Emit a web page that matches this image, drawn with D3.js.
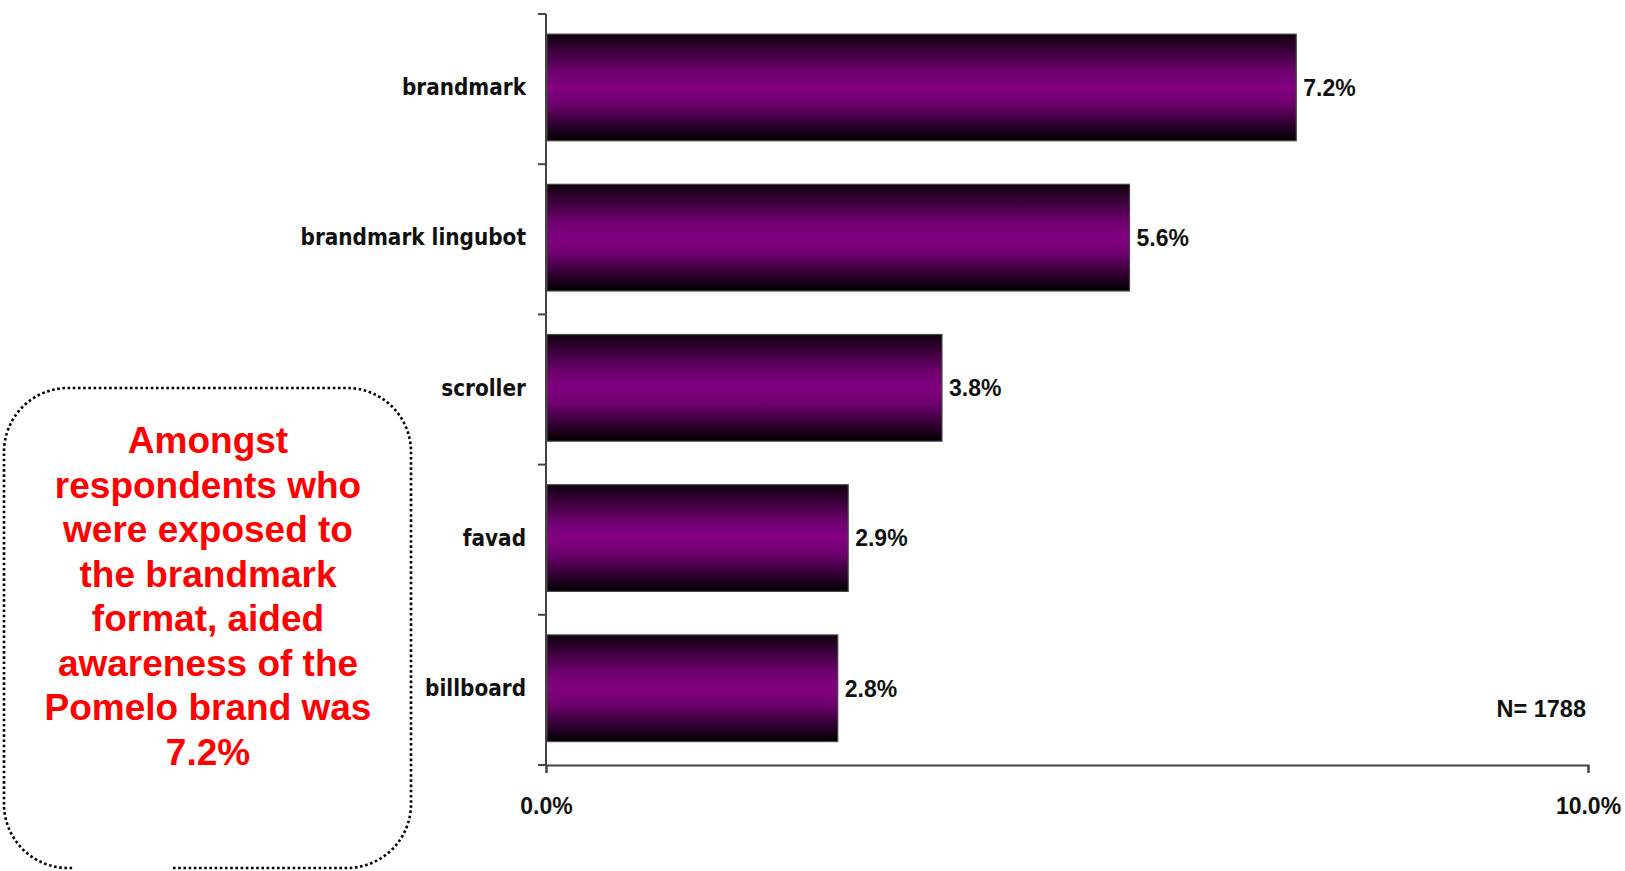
<!DOCTYPE html>
<html>
<head>
<meta charset="utf-8">
<script src="https://cdn.jsdelivr.net/npm/d3@7"></script>
<style>
  html, body { margin: 0; padding: 0; background: #ffffff; }
  svg { display: block; }
</style>
</head>
<body>
<svg id="chart" width="1625" height="871"></svg>
<script>
// ---- data ----
const categories = ["brandmark", "brandmark lingubot", "scroller", "favad", "billboard"];
const values = [0.072, 0.056, 0.038, 0.029, 0.028];
const xTicks = [0, 0.10];
const sampleNote = "N= 1788";
const calloutLines = [
  "Amongst",
  "respondents who",
  "were exposed to",
  "the brandmark",
  "format, aided",
  "awareness of the",
  "Pomelo brand was",
  "7.2%"
];

// ---- layout ----
const svg = d3.select("#chart");
const x0 = 546, x1 = 1588, yTop = 14, yBot = 765;
const x = d3.scaleLinear().domain([0, 0.10]).range([x0, x1]);
const y = d3.scaleBand().domain(categories).range([yTop, yBot]).padding(0);
const step = y.step();
const barOff = step * 0.134, barH = step * 0.71;

// gradient
const defs = svg.append("defs");
const grad = defs.append("linearGradient").attr("id", "barGrad")
  .attr("x1", 0).attr("y1", 0).attr("x2", 0).attr("y2", 1);
grad.append("stop").attr("offset", "0%").attr("stop-color", "#100010");
grad.append("stop").attr("offset", "35%").attr("stop-color", "#6e006e");
grad.append("stop").attr("offset", "50%").attr("stop-color", "#820082");
grad.append("stop").attr("offset", "65%").attr("stop-color", "#6e006e");
grad.append("stop").attr("offset", "100%").attr("stop-color", "#000000");

const data = categories.map((c, i) => ({ c, v: values[i] }));

// bars
svg.append("g").selectAll("rect").data(data).join("rect")
  .attr("x", x(0) + 1)
  .attr("y", d => y(d.c) + barOff)
  .attr("width", d => x(d.v) - x(0) - 1)
  .attr("height", barH)
  .attr("fill", "url(#barGrad)")
  .attr("stroke", "#444")
  .attr("stroke-width", 1.2);

// value labels
svg.append("g").selectAll("text").data(data).join("text")
  .attr("x", d => x(d.v) + 7)
  .attr("y", d => y(d.c) + barOff + barH / 2)
  .attr("dy", "0.36em")
  .attr("font-family", "Liberation Sans, Arial, sans-serif")
  .attr("font-weight", "bold")
  .attr("font-size", 23)
  .attr("fill", "#111")
  .text(d => d3.format(".1%")(d.v));

// x axis
const xAxis = d3.axisBottom(x).tickValues(xTicks).tickFormat(d3.format(".1%"))
  .tickSize(8).tickPadding(25);
const gx = svg.append("g").attr("transform", `translate(0,${yBot})`).call(xAxis);
gx.select(".domain").attr("stroke", "#444").attr("stroke-width", 2);
gx.selectAll(".tick line").attr("stroke", "#444").attr("stroke-width", 2);
gx.selectAll(".tick text")
  .attr("font-family", "Liberation Sans, Arial, sans-serif")
  .attr("font-weight", "bold")
  .attr("font-size", 23)
  .attr("fill", "#111");

// y axis (category axis with ticks at band boundaries)
const gy = svg.append("g");
gy.append("line").attr("x1", x0).attr("x2", x0).attr("y1", yTop).attr("y2", yBot)
  .attr("stroke", "#444").attr("stroke-width", 2);
const bounds = categories.map(c => y(c)).concat([yBot]);
gy.selectAll("line.tk").data(bounds).join("line").attr("class", "tk")
  .attr("x1", x0 - 8).attr("x2", x0).attr("y1", d => d).attr("y2", d => d)
  .attr("stroke", "#444").attr("stroke-width", 2);
gy.selectAll("text").data(data).join("text")
  .attr("x", x0 - 20)
  .attr("y", d => y(d.c) + barOff + barH / 2)
  .attr("dy", "0.35em")
  .attr("text-anchor", "end")
  .attr("font-family", "DejaVu Sans Condensed, DejaVu Sans, sans-serif")
  .attr("font-stretch", "condensed")
  .attr("font-weight", "bold")
  .attr("font-size", 22.3)
  .attr("fill", "#111")
  .text(d => d.c);

// N note
svg.append("text")
  .attr("x", 1586).attr("y", 717)
  .attr("text-anchor", "end")
  .attr("font-family", "Liberation Sans, Arial, sans-serif")
  .attr("font-weight", "bold")
  .attr("font-size", 23.5)
  .attr("fill", "#111")
  .text(sampleNote);

// callout box
const bx0 = 4, bx1 = 411, by0 = 388, by1 = 868, r = 64;
const p = d3.path();
p.moveTo(173, by1);
p.lineTo(bx1 - r, by1);
p.arcTo(bx1, by1, bx1, by1 - r, r);
p.lineTo(bx1, by0 + r);
p.arcTo(bx1, by0, bx1 - r, by0, r);
p.lineTo(bx0 + r, by0);
p.arcTo(bx0, by0, bx0, by0 + r, r);
p.lineTo(bx0, by1 - r);
p.arcTo(bx0, by1, bx0 + r, by1, r);
p.lineTo(73, by1);
svg.append("path").attr("d", p.toString())
  .attr("fill", "none")
  .attr("stroke", "#000")
  .attr("stroke-width", 2.6)
  .attr("stroke-dasharray", "2.6 2.6");

svg.append("g").selectAll("text").data(calloutLines).join("text")
  .attr("x", 208)
  .attr("y", (d, i) => 453 + i * 44.5)
  .attr("text-anchor", "middle")
  .attr("font-family", "Liberation Sans, Arial, sans-serif")
  .attr("font-weight", "bold")
  .attr("font-size", 37)
  .attr("fill", "#ff0000")
  .text(d => d);
</script>
</body>
</html>
